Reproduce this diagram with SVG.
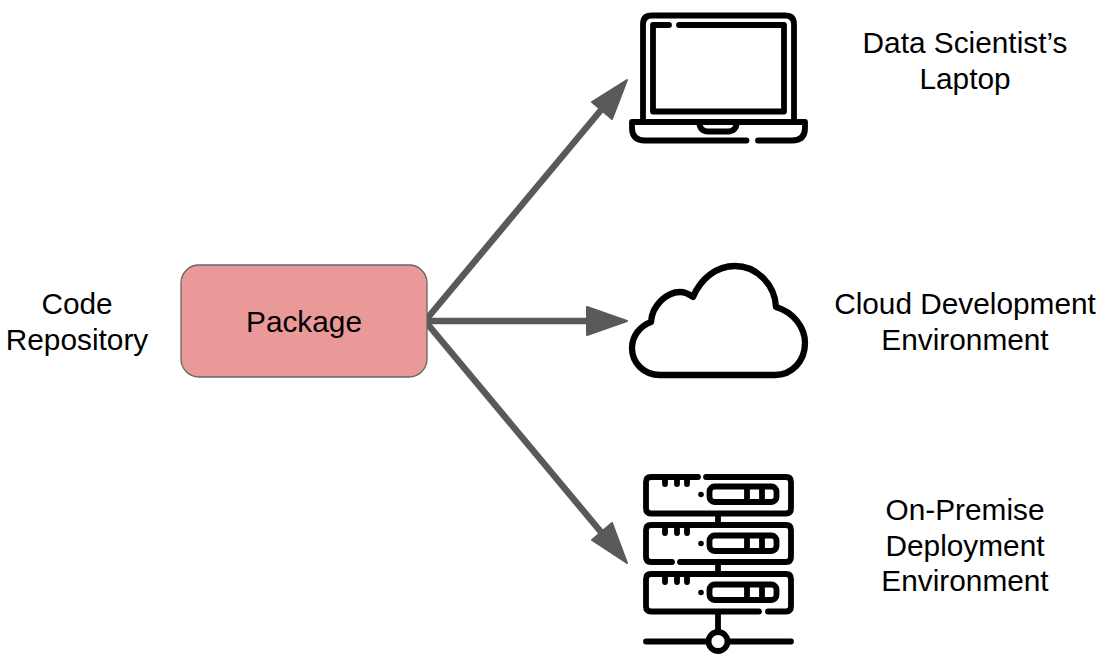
<svg xmlns="http://www.w3.org/2000/svg" width="1107" height="662" viewBox="0 0 1107 662">
<defs>
<style>
text{font-family:"Liberation Sans",Arial,sans-serif;font-size:29.800px;fill:#000;text-anchor:middle}
.i{fill:none;stroke:#000;stroke-width:5.800;stroke-linecap:round;stroke-linejoin:round}
.c{fill:none;stroke:#595959;stroke-width:6.500}
.h{fill:#595959;stroke:#595959;stroke-width:2;stroke-linejoin:round}
</style>
<g id="rack">
<path class="i" d="M665 477V484M677 477V484M687 477V484"/>
<circle cx="701" cy="494.500" r="2.800" fill="#000"/>
<rect class="i" x="709.500" y="486.500" width="67" height="15.500" rx="5"/>
<path class="i" d="M747 487V501M762 487V501"/>
</g>
</defs>
<rect width="1107" height="662" fill="#fff"/>
<g id="connectors">
<path class="c" d="M425 321L611 98"/>
<path class="h" d="M627 80L612 119L592 102Z"/>
<path class="c" d="M425 321H590"/>
<path class="h" d="M627 321L587 335V307Z"/>
<path class="c" d="M425 321L611 544"/>
<path class="h" d="M627 563L592 540L612 523Z"/>
</g>
<g id="package">
<rect x="181" y="265" width="246" height="112" rx="18" fill="#ea9999" stroke="#666" stroke-width="1.300"/>
<text x="304" y="332">Package</text>
</g>
<g id="code-repository">
<text x="77" y="313.500">Code</text>
<text x="77" y="349.500">Repository</text>
</g>
<g id="laptop">
<path class="i" d="M643 121V24Q643 15.500 652 15.500H785Q794 15.500 794 24V121"/>
<path class="i" d="M669 25H653V111.500H784V25H679"/>
<path class="i" d="M746.500 140.500H645Q632 140.500 632 128V122H805V128Q805 140.500 792 140.500H758"/>
<path class="i" d="M699 122Q700 131.500 708 131.500H728Q736 131.500 737 122"/>
</g>
<g id="laptop-label">
<text x="965" y="53">Data Scientist’s</text>
<text x="965" y="89">Laptop</text>
</g>
<g id="cloud">
<path class="i" d="M660 375C644 375 632 363 632 348C632 336 640 326 651 322C652 305 667 292 680 292C685 292 689 294 693 297C701 278 717 266 735 266C757 266 775 285 776 307C793 312 805 327 805 343C805 361 792 375 775 375Z" style="stroke-width:6.300"/>
</g>
<g id="cloud-label">
<text x="965" y="313.500">Cloud Development</text>
<text x="965" y="349.500">Environment</text>
</g>
<g id="server">
<path class="i" d="M698 477H651Q646 477 646 482V508.500Q646 513.500 651 513.500H786Q791 513.500 791 508.500V482Q791 477 786 477H706"/>
<path class="i" d="M672 562H651Q646 562 646 557V530Q646 525 651 525H786Q791 525 791 530V557Q791 562 786 562H680"/>
<path class="i" d="M759 611.500H651Q646 611.500 646 606.500V579Q646 574 651 574H786Q791 574 791 579V606.500Q791 611.500 786 611.500H768"/>
<path class="i" d="M718 514V525M718 562V574M718 612V632M646 641.500H708M728 641.500H791"/>
<circle class="i" cx="718" cy="641.500" r="9.500"/>
<use href="#rack"/>
<use href="#rack" y="49"/>
<use href="#rack" y="98"/>
</g>
<g id="server-label">
<text x="965" y="519.500">On-Premise</text>
<text x="965" y="555.500">Deployment</text>
<text x="965" y="590.500">Environment</text>
</g>
</svg>
